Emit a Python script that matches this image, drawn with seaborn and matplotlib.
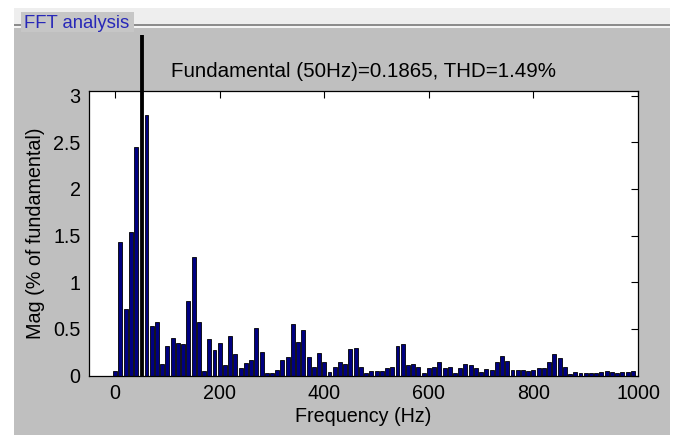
import numpy as np
import pandas as pd
import matplotlib
matplotlib.use("Agg")
import matplotlib.pyplot as plt
import seaborn as sns
from matplotlib.patches import Rectangle
from matplotlib.transforms import Bbox, TransformedBbox
from matplotlib.ticker import FormatStrFormatter

# ---- data ----
freqs = list(range(0, 1000, 10))
mags = [
    0.05, 1.43, 0.71, 1.54, 2.45, 100.0, 2.79, 0.53, 0.57, 0.12,   # 0-90
    0.32, 0.40, 0.345, 0.335, 0.80, 1.27, 0.57, 0.045, 0.395, 0.27,  # 100-190
    0.345, 0.11, 0.42, 0.23, 0.077, 0.135, 0.165, 0.51, 0.255, 0.03,  # 200-290
    0.03, 0.06, 0.165, 0.20, 0.555, 0.36, 0.49, 0.20, 0.09, 0.24,  # 300-390
    0.148, 0.035, 0.095, 0.15, 0.12, 0.28, 0.30, 0.095, 0.03, 0.05,  # 400-490
    0.05, 0.05, 0.08, 0.09, 0.32, 0.335, 0.11, 0.127, 0.09, 0.03,  # 500-590
    0.08, 0.095, 0.14, 0.08, 0.095, 0.03, 0.08, 0.12, 0.11, 0.08,  # 600-690
    0.04, 0.075, 0.06, 0.14, 0.21, 0.155, 0.06, 0.06, 0.06, 0.05,  # 700-790
    0.06, 0.08, 0.08, 0.14, 0.23, 0.185, 0.095, 0.02, 0.04, 0.03,  # 800-890
    0.03, 0.03, 0.03, 0.035, 0.05, 0.035, 0.03, 0.035, 0.04, 0.045,  # 900-990
]
fundamental_freq = 50
title_text = "Fundamental (50Hz)=0.1865, THD=1.49%"
panel_title = "FFT analysis"
x_ticks = [0, 200, 400, 600, 800, 1000]
y_ticks = [0, 0.5, 1, 1.5, 2, 2.5, 3]

df = pd.DataFrame({"Frequency": freqs, "Mag": mags})

sns.set_style("white")
plt.rcParams["font.family"] = ["Liberation Sans", "DejaVu Sans"]
plt.rcParams["text.color"] = "black"
plt.rcParams["axes.labelcolor"] = "black"

W, H = 674, 437
fig = plt.figure(figsize=(W / 100, H / 100), dpi=100)
fig.patch.set_facecolor("white")

def fx(px):
    return px / W

def fy(py):
    return 1 - py / H

# window decorations
fig.add_artist(Rectangle((fx(14), fy(24)), fx(670 - 14), 16 / H,
                         transform=fig.transFigure, facecolor="#eeeeee",
                         edgecolor="none", zorder=0))
fig.add_artist(Rectangle((fx(14), fy(435)), fx(670 - 14), (435 - 27) / H,
                         transform=fig.transFigure, facecolor="#bfbfbf",
                         edgecolor="none", zorder=0))
fig.add_artist(Rectangle((fx(14), fy(25.5)), fx(670 - 14), 1.5 / H,
                         transform=fig.transFigure, facecolor="#8c8c8c",
                         edgecolor="none", zorder=1))
fig.add_artist(Rectangle((fx(14), fy(27.5)), fx(670 - 14), 1.5 / H,
                         transform=fig.transFigure, facecolor="#f4f4f4",
                         edgecolor="none", zorder=1))
fig.add_artist(Rectangle((fx(21), fy(32)), fx(134 - 21), 20 / H,
                         transform=fig.transFigure, facecolor="#c6c6c6",
                         edgecolor="none", zorder=2))
fig.text(fx(24), fy(23), panel_title, color="#2828b8", fontsize=13.3,
         ha="left", va="center", zorder=3)

ax_l, ax_r, ax_t, ax_b = 89, 638, 91, 375.5
ax = fig.add_axes([fx(ax_l), fy(ax_b), fx(ax_r - ax_l), (ax_b - ax_t) / H])
ax.set_facecolor("white")

sns.barplot(data=df, x="Frequency", y="Mag", native_scale=True, orient="x",
            color="#000080", saturation=1, edgecolor="black", linewidth=0.6,
            width=0.75, ax=ax)

ax.set_xlim(-50, 1000)
ax.set_ylim(0, 3.05)

# fundamental bar: drawn black, narrower, and allowed to rise above the axes
clip = TransformedBbox(Bbox.from_extents(fx(ax_l), fy(ax_b), fx(ax_r), fy(35)),
                       fig.transFigure)
for p in ax.patches:
    cx = p.get_x() + p.get_width() / 2
    if abs(cx - fundamental_freq) < 1:
        p.set_facecolor("black")
        p.set_x(cx - 2.5)
        p.set_width(5)
        p.set_clip_box(clip)
        p.set_zorder(5)

FS = 14.2
ax.set_xticks(x_ticks)
ax.set_yticks(y_ticks)
ax.yaxis.set_major_formatter(FormatStrFormatter("%g"))
ax.tick_params(direction="in", top=True, right=True, length=5, width=0.8,
               labelsize=FS, pad=6, colors="black")
for s in ax.spines.values():
    s.set_visible(True)
    s.set_color("black")
    s.set_linewidth(0.9)

ax.set_xlabel("Frequency (Hz)", fontsize=FS, labelpad=3, color="black")
ax.set_ylabel("Mag (% of fundamental)", fontsize=FS, labelpad=6, color="black")
ax.set_title(title_text, fontsize=14.8, pad=10, color="black")

fig.savefig("out.png", dpi=100)
